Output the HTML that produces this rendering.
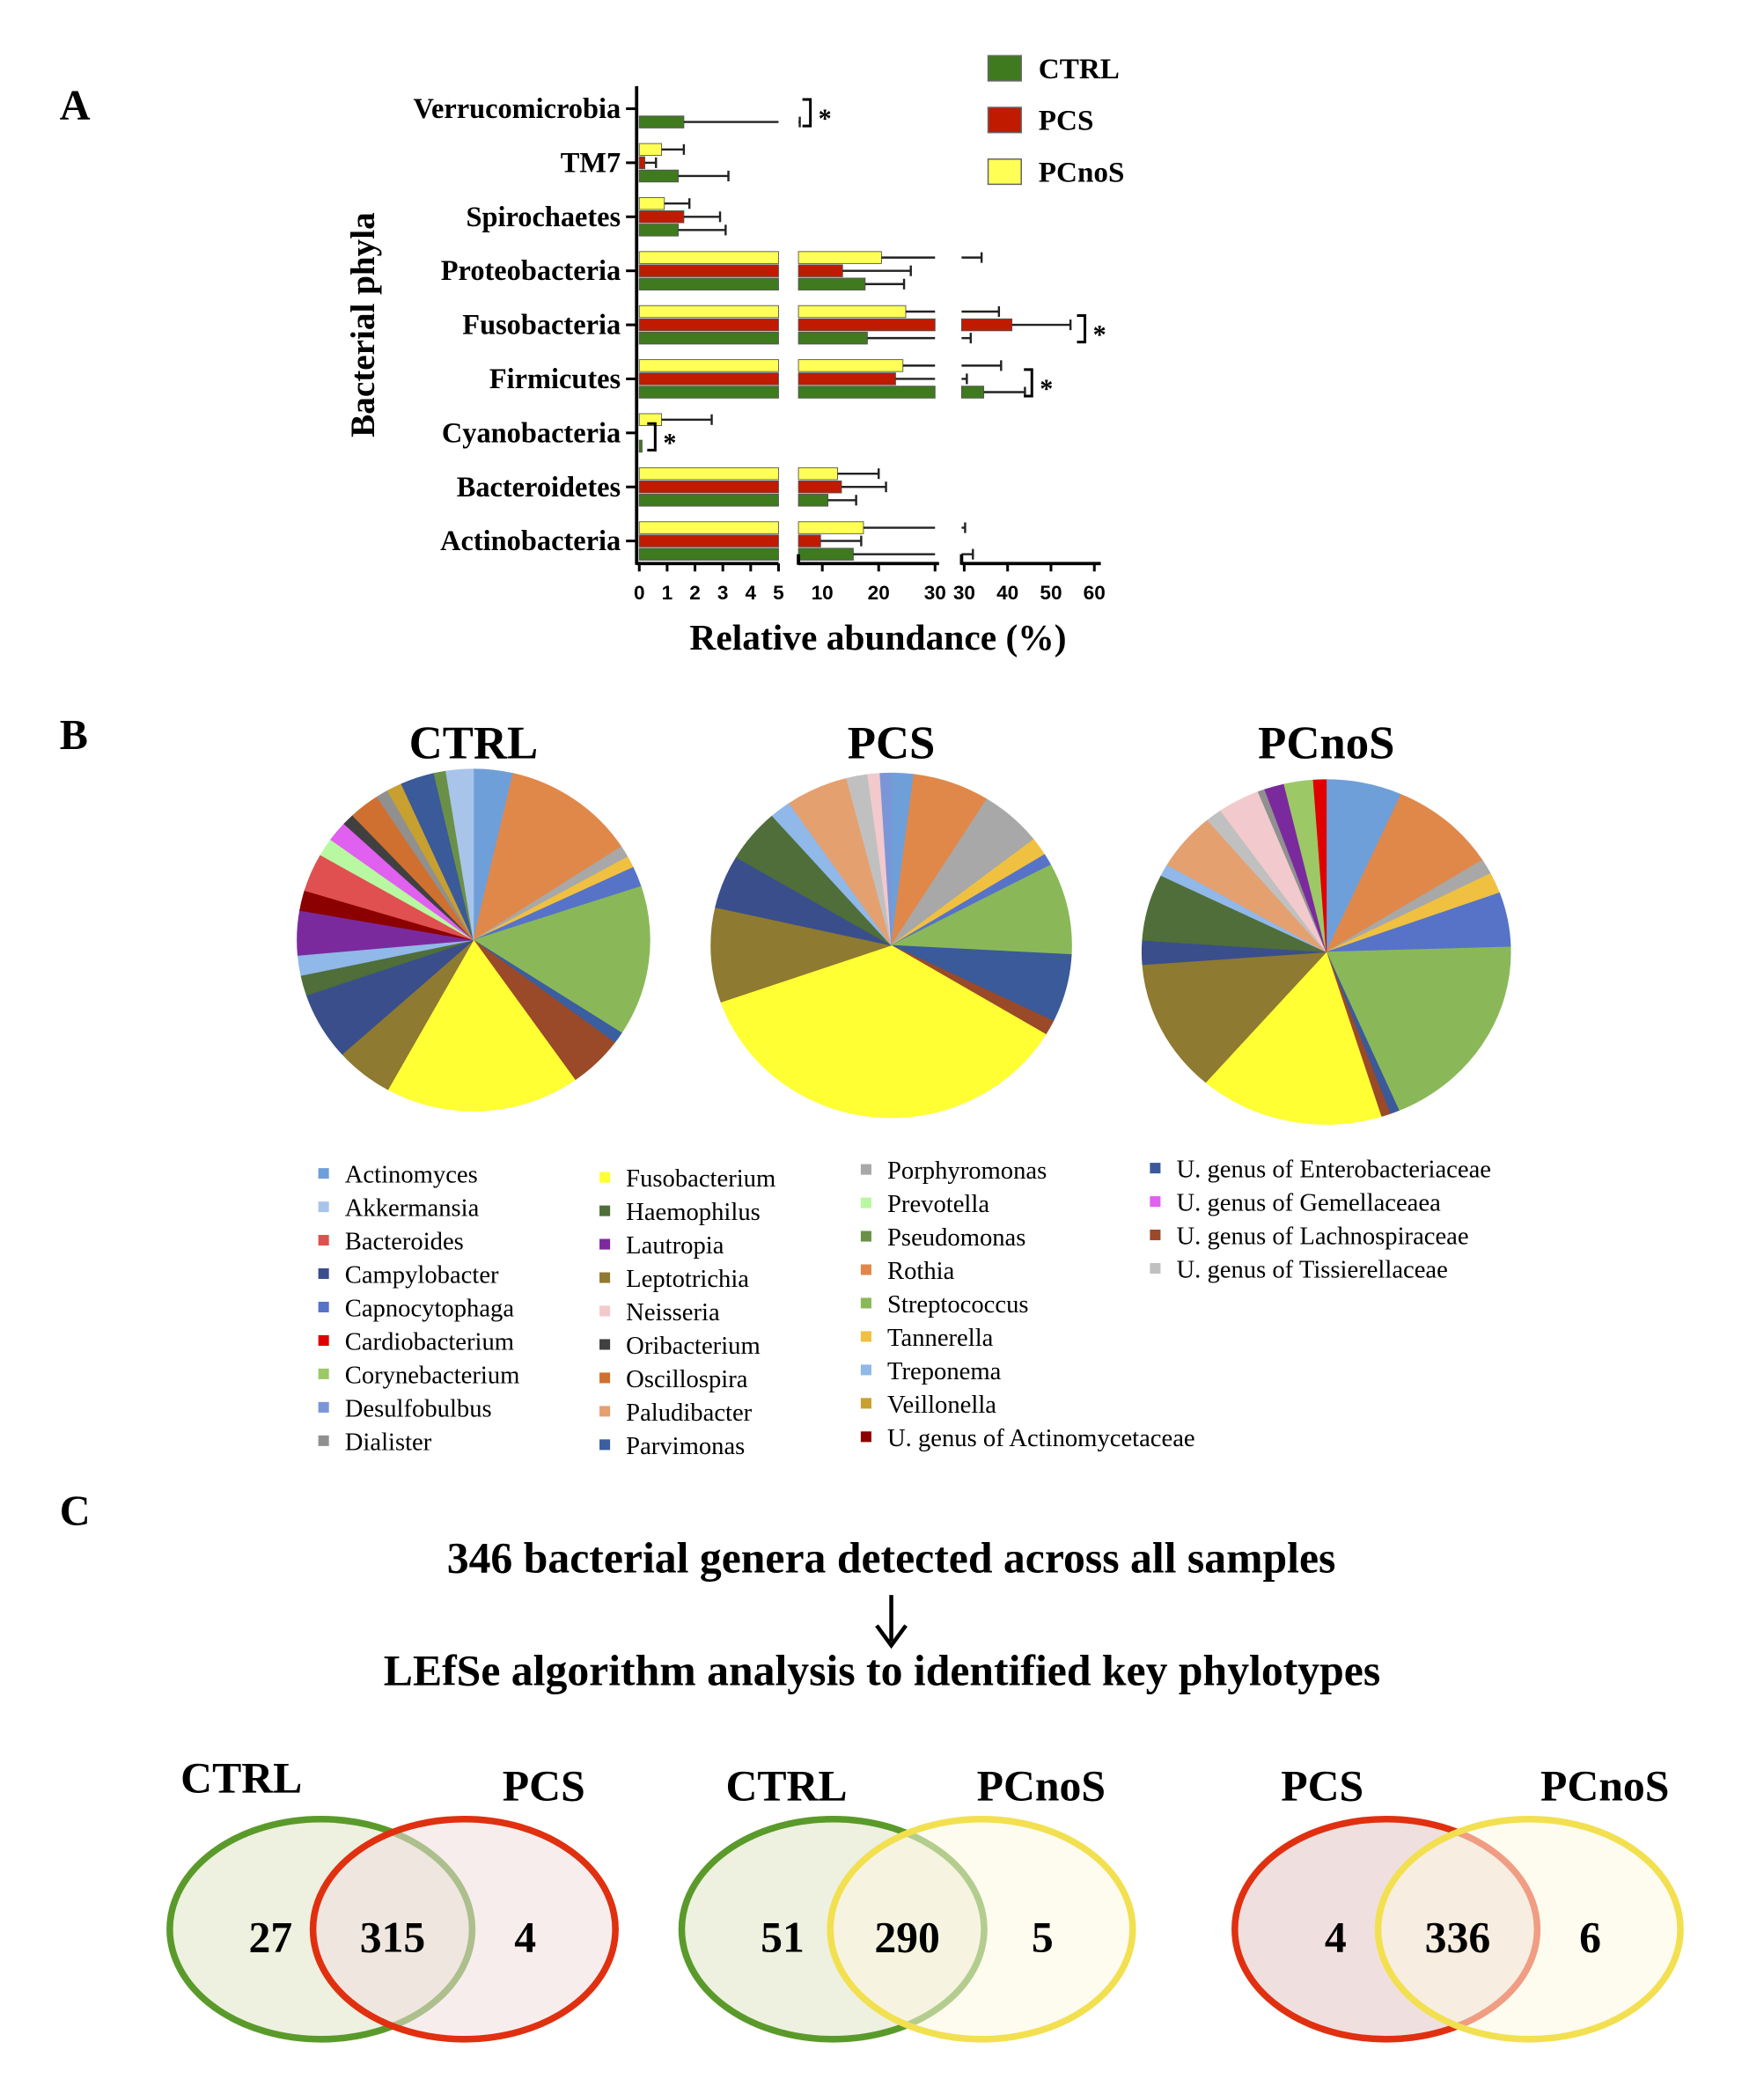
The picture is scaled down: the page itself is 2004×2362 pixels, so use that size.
<!DOCTYPE html>
<html><head><meta charset="utf-8"><style>
html,body{margin:0;padding:0;background:#fff}
svg{display:block;font-family:"Liberation Serif",serif}
.b{font-weight:bold}
</style></head><body>
<svg id="fig" width="2004" height="2362" viewBox="0 0 1330 1568" preserveAspectRatio="none" xmlns="http://www.w3.org/2000/svg">
<rect width="1330" height="1568" fill="#fff"/>
<text x="45" y="90" class="b" font-size="32">A</text>
<text x="45" y="565" class="b" font-size="32">B</text>
<text x="45" y="1150" class="b" font-size="32">C</text>
<g id="barChart"></g>
<g id="pies"></g>
<g id="pieLegend"></g>
<g>
<text x="672" y="1186" text-anchor="middle" class="b" font-size="33">346 bacterial genera detected across all samples</text>
<line x1="672" y1="1203" x2="672" y2="1238" stroke="#000" stroke-width="3"/>
<path d="M661 1226 L672 1241 L683 1226" fill="none" stroke="#000" stroke-width="3"/>
<text x="665" y="1271" text-anchor="middle" class="b" font-size="33">LEfSe algorithm analysis to identified key phylotypes</text>
</g>
<g id="venns"></g>
</svg>
<script>
const NS='http://www.w3.org/2000/svg';
function mk(tag,attrs,parent,txt){const e=document.createElementNS(NS,tag);for(const k in attrs)e.setAttribute(k,attrs[k]);if(txt!==undefined)e.textContent=txt;parent.appendChild(e);return e;}

// ---------- Panel A data ----------
const phyla=['Verrucomicrobia','TM7','Spirochaetes','Proteobacteria','Fusobacteria','Firmicutes','Cyanobacteria','Bacteroidetes','Actinobacteria'];
const ctrlVals=[1.6,1.4,1.4,17.6,18,34.5,0.1,11,15.5];
const ctrlErr=[6,3.2,3.1,24.5,31.5,44,0,16,32];
const pcsVals=[0,0.2,1.6,13.6,41,23,0,13.4,9.7];
const pcsErr=[0,0.6,2.9,25.7,54.5,30.6,0,21.3,16.9];
const pcnosVals=[0,0.8,0.9,20.5,24.8,24.3,0.8,12.7,17.3];
const pcnosErr=[0,1.6,1.8,34,38,38.5,2.6,20,30.2];
const tickSeg1=[0,1,2,3,4,5];
const tickSeg2=[10,20,30];
const tickSeg3=[30,40,50,60];
const sigRows=[0,4,5,6];

const bar=document.getElementById('barChart');
const catY0=82,catStep=40.75;
function yCat(i){return catY0+i*catStep;}
function x1(v){return 482+v*21;}
function x2(v){return 598.75+(v-5)*4.25;}
function x3(v){return 727+(v-30)*3.27;}
function segs(v){const s=[];if(v<=0)return s;s.push([x1(0),x1(Math.min(v,5))]);if(v>5)s.push([602,x2(Math.min(v,30))]);if(v>30)s.push([725,x3(v)]);return s;}
function xv(v){return v<=5?x1(v):(v<=30?x2(v):x3(v));}
const series=[{name:'pcnos',vals:pcnosVals,err:pcnosErr,col:'#ffff55',off:-10},{name:'pcs',vals:pcsVals,err:pcsErr,col:'#c01a00',off:0},{name:'ctrl',vals:ctrlVals,err:ctrlErr,col:'#3f7a1f',off:10}];
phyla.forEach((p,i)=>{
  const y=yCat(i);
  const t=mk('text',{x:468,y:y+7,'text-anchor':'end','font-size':21.5,class:'b'},bar,p);
  
  
  mk('line',{x1:472,y1:y,x2:480,y2:y,stroke:'#000','stroke-width':2},bar);
  series.forEach(s=>{
    const v=s.vals[i],e=s.err[i],yy=y+s.off;
    segs(v).forEach(sg=>{
      const r=mk('rect',{x:sg[0],y:yy-4.5,width:Math.max(1.5,sg[1]-sg[0]),height:9,fill:s.col,stroke:'#555','stroke-width':0.6},bar);
      
      
    });
    if(e>v){
      const ev=[];
      const bounds=[[0,5,482,x1(5)],[5,30,602,708],[30,60,725,830]];
      bounds.forEach(b=>{const a=Math.max(v,b[0]),c=Math.min(e,b[1]);if(c>a){ev.push([Math.max(xv(a),b[2]),xv(c)]);}});
      ev.forEach(g=>mk('line',{x1:g[0],y1:yy,x2:g[1],y2:yy,stroke:'#222','stroke-width':1.6},bar));
      const ex=xv(e);
      mk('line',{x1:ex,y1:yy-4,x2:ex,y2:yy+4,stroke:'#222','stroke-width':1.6},bar);
    }
  });
});
// axes
mk('line',{x1:480,y1:65,x2:480,y2:426,stroke:'#000','stroke-width':2.5},bar);
[[480,587],[602,708],[725,830]].forEach(s=>mk('line',{x1:s[0],y1:425,x2:s[1],y2:425,stroke:'#000','stroke-width':2.5},bar));
mk('line',{x1:602,y1:418,x2:602,y2:426,stroke:'#000','stroke-width':2.5},bar);
mk('line',{x1:725,y1:418,x2:725,y2:426,stroke:'#000','stroke-width':2.5},bar);
function tick(x,l){mk('line',{x1:x,y1:425,x2:x,y2:431,stroke:'#000','stroke-width':2},bar);const t=mk('text',{x:x,y:452,'text-anchor':'middle','font-size':15,class:'b','font-family':'Liberation Sans, sans-serif'},bar,l);}
tickSeg1.forEach(v=>tick(x1(v),v));
tickSeg2.forEach(v=>tick(x2(v),v));
tickSeg3.forEach(v=>tick(x3(v),v));
let tt=mk('text',{x:662,y:490,'text-anchor':'middle','font-size':27.5,class:'b'},bar,'Relative abundance (%)');

tt=mk('text',{x:0,y:0,'text-anchor':'middle','font-size':26,class:'b',transform:'translate(282,245) rotate(-90)'},bar,'Bacterial phyla');

// significance brackets
const sigX={0:605,4:812,5:772,6:488};
sigRows.forEach(i=>{
  const y=yCat(i),x=sigX[i];
  mk('path',{d:`M${x} ${y-7} H${x+6} V${y+13} H${x}`,fill:'none',stroke:'#000','stroke-width':2},bar);
  const s=mk('text',{x:x+12,y:y+14,'font-size':20,class:'b'},bar,'*');
  
});
// legend
const legNames=['CTRL','PCS','PCnoS'],legCols=['#3f7a1f','#c01a00','#ffff55'];
legNames.forEach((n,i)=>{
  const y=42+i*39;
  const r=mk('rect',{x:745,y:y,width:25,height:19,fill:legCols[i],stroke:'#666','stroke-width':1},bar);
  
  const t=mk('text',{x:783,y:y+17,'font-size':22,class:'b'},bar,n);
  
});

// ---------- Panel B data ----------
const genusColors={Actinomyces:'#6f9fd8',Akkermansia:'#a9c4eb',Bacteroides:'#e05050',Campylobacter:'#3a4e8c',Capnocytophaga:'#5673c8',Cardiobacterium:'#e00000',Corynebacterium:'#9cc866',Desulfobulbus:'#7a96d8',Dialister:'#909090',Fusobacterium:'#ffff33',Haemophilus:'#4f6e3a',Lautropia:'#7b2a9e',Leptotrichia:'#8e7a30',Neisseria:'#f2c9cc',Oribacterium:'#404040',Oscillospira:'#d07030',Paludibacter:'#e5a070',Parvimonas:'#3b5ea0',Porphyromonas:'#a8a8a8',Prevotella:'#b8f8a0',Pseudomonas:'#6a9048',Rothia:'#e0884a',Streptococcus:'#8ab858',Tannerella:'#f0c040',Treponema:'#90b8e8',Veillonella:'#c8a030',Actinomycetaceae:'#8b0000',Enterobacteriaceae:'#3a5a9a',Gemellaceae:'#e060f0',Lachnospiraceae:'#9a4a28',Tissierellaceae:'#c0c0c0'};
const ctrlGenera=['Actinomyces','Rothia','Porphyromonas','Tannerella','Capnocytophaga','Streptococcus','Parvimonas','Lachnospiraceae','Fusobacterium','Leptotrichia','Campylobacter','Haemophilus','Treponema','Lautropia','Actinomycetaceae','Bacteroides','Prevotella','Gemellaceae','Oribacterium','Oscillospira','Dialister','Veillonella','Enterobacteriaceae','Pseudomonas','Akkermansia'];
const ctrlShares=[3.6,12.2,1.1,1.1,1.9,14.2,1.1,5,17.8,5.3,6.4,1.9,1.9,4.2,1.9,3.6,1.7,1.9,1.1,2.8,1.1,1.4,3.1,1.1,2.5];
const pcsGenera=['Actinomyces','Rothia','Porphyromonas','Tannerella','Capnocytophaga','Streptococcus','Enterobacteriaceae','Lachnospiraceae','Fusobacterium','Leptotrichia','Campylobacter','Haemophilus','Treponema','Paludibacter','Tissierellaceae','Neisseria','Desulfobulbus'];
const pcsShares=[2,6.9,5.6,1.7,1.1,8.6,6.4,1.4,36.1,8.9,5,5,1.9,5.6,1.9,1.1,1];
const pcnosGenera=['Actinomyces','Rothia','Porphyromonas','Tannerella','Capnocytophaga','Streptococcus','Enterobacteriaceae','Lachnospiraceae','Fusobacterium','Leptotrichia','Campylobacter','Haemophilus','Treponema','Paludibacter','Tissierellaceae','Neisseria','Dialister','Lautropia','Corynebacterium','Cardiobacterium'];
const pcnosShares=[6.5,9.2,1.4,1.9,5,18.6,0.8,0.8,15.8,12.2,2.2,6.1,1.1,5.3,1.4,3.6,0.6,1.7,2.5,1.1];
const pieTitles=['CTRL','PCS','PCnoS'];
const pieGeom=[[357,709,133,129],[672,713,136,130],[1000,718,139,130]];
const pieSets=[[ctrlGenera,ctrlShares],[pcsGenera,pcsShares],[pcnosGenera,pcnosShares]];
const pies=document.getElementById('pies');
pieSets.forEach((ps,k)=>{
  const [cx,cy,rx,ry]=pieGeom[k];
  const t=mk('text',{x:cx,y:572,'text-anchor':'middle','font-size':35,class:'b'},pies,pieTitles[k]);
  
  const tot=ps[1].reduce((a,b)=>a+b,0);let acc=0;
  ps[0].forEach((g,i)=>{
    const a0=acc/tot*2*Math.PI;acc+=ps[1][i];const a1=acc/tot*2*Math.PI;
    const p0=[cx+rx*Math.sin(a0),cy-ry*Math.cos(a0)],p1=[cx+rx*Math.sin(a1),cy-ry*Math.cos(a1)];
    const large=(a1-a0)>Math.PI?1:0;
    const p=mk('path',{d:`M${cx} ${cy} L${p0[0]} ${p0[1]} A${rx} ${ry} 0 ${large} 1 ${p1[0]} ${p1[1]} Z`,fill:genusColors[g],stroke:genusColors[g],'stroke-width':0.5},pies);
    
  });
});
// legend B
const legendCols=[
 [['Actinomyces','Actinomyces'],['Akkermansia','Akkermansia'],['Bacteroides','Bacteroides'],['Campylobacter','Campylobacter'],['Capnocytophaga','Capnocytophaga'],['Cardiobacterium','Cardiobacterium'],['Corynebacterium','Corynebacterium'],['Desulfobulbus','Desulfobulbus'],['Dialister','Dialister']],
 [['Fusobacterium','Fusobacterium'],['Haemophilus','Haemophilus'],['Lautropia','Lautropia'],['Leptotrichia','Leptotrichia'],['Neisseria','Neisseria'],['Oribacterium','Oribacterium'],['Oscillospira','Oscillospira'],['Paludibacter','Paludibacter'],['Parvimonas','Parvimonas']],
 [['Porphyromonas','Porphyromonas'],['Prevotella','Prevotella'],['Pseudomonas','Pseudomonas'],['Rothia','Rothia'],['Streptococcus','Streptococcus'],['Tannerella','Tannerella'],['Treponema','Treponema'],['Veillonella','Veillonella'],['Actinomycetaceae','U. genus of Actinomycetaceae']],
 [['Enterobacteriaceae','U. genus of Enterobacteriaceae'],['Gemellaceae','U. genus of Gemellaceaea'],['Lachnospiraceae','U. genus of Lachnospiraceae'],['Tissierellaceae','U. genus of Tissierellaceae']]];
const legX=[240,452,649,867],legY0=[888,891,885,884];
const lg=document.getElementById('pieLegend');
legendCols.forEach((col,c)=>col.forEach((it,i)=>{
  const y=legY0[c]+i*25.2;
  const r=mk('rect',{x:legX[c],y:y-7,width:8,height:8,fill:genusColors[it[0]]},lg);
  
  const t=mk('text',{x:legX[c]+20,y:y+4,'font-size':19},lg,it[1]);
  
}));

// ---------- Panel C ----------
const vennLabels=[['CTRL','PCS'],['CTRL','PCnoS'],['PCS','PCnoS']];
const vennCounts=[[27,315,4],[51,290,5],[4,336,6]];
const vennStroke={CTRL:'#5a9a2a',PCS:'#e03010',PCnoS:'#f2e050'};
const vennFill={CTRL:'#eef0e0',PCS:'#f0dfdf',PCnoS:'#fdf8e2'};
const vennCx=[[242,350],[628,740],[1045,1153]];
const lblPos=[[[182,1352],[410,1358]],[[593,1358],[785,1358]],[[997,1358],[1210,1358]]];
const vg=document.getElementById('venns');
vennLabels.forEach((pair,k)=>{
  const [a,b]=pair;
  mk('ellipse',{cx:vennCx[k][0],cy:1455,rx:114,ry:83,fill:vennFill[a],stroke:vennStroke[a],'stroke-width':5},vg);
  mk('ellipse',{cx:vennCx[k][1],cy:1455,rx:114,ry:83,fill:vennFill[b],'fill-opacity':0.55,stroke:vennStroke[b],'stroke-width':5},vg);
  pair.forEach((n,j)=>{const t=mk('text',{x:lblPos[k][j][0],y:lblPos[k][j][1],'text-anchor':'middle','font-size':33,class:'b'},vg,n);});
  const cxs=[vennCx[k][0]-38,(vennCx[k][0]+vennCx[k][1])/2,vennCx[k][1]+46];
  vennCounts[k].forEach((v,j)=>{const t=mk('text',{x:cxs[j],y:1472,'text-anchor':'middle','font-size':33,class:'b'},vg,v);});
});
</script>
</body></html>
